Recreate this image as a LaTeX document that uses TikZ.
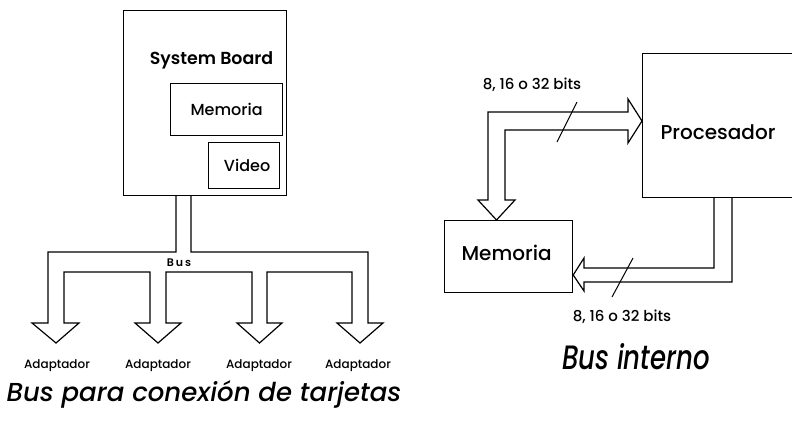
\documentclass[tikz,border=0pt]{standalone}
\usepackage{fontspec}
\usetikzlibrary{calc}
\setmainfont{Poppins}[UprightFont={* Medium}, ItalicFont={* Medium Italic}, BoldFont={* SemiBold}]
\begin{document}
\begin{tikzpicture}[x=1pt,y=-1pt,
  line width=1.2pt, line join=miter,
  box/.style={draw, rectangle, inner sep=0pt, anchor=north west},
  lbl/.style={inner sep=0pt, font=\fontsize{#1}{#1}\selectfont},
  bus/.style={draw, line width=1.2pt}]
\useasboundingbox (0,0) rectangle (792,421);

% ---------- expansion bus (left) ----------
\node[box, minimum width=163pt, minimum height=185pt] (board) at (123,10) {};
\node[lbl=17.4, font=\fontsize{17.4}{17.4}\selectfont\bfseries] (sbtxt) at (211.5,60) {System Board};
\node[box, minimum width=112pt, minimum height=52pt] (smem) at (170,83) {};
\node[lbl=16] at (smem.center) {Memoria};
\node[box, minimum width=71pt, minimum height=46pt] (vid) at (208,142) {};
\node[lbl=16] at ($(vid.center)+(3,0)$) {Video};

% bus trunk with four branches ending in block arrows
\draw[bus] (176,195) -- (176,252) -- (48,252) -- (48,323) -- (32,323) -- (56,343) -- (79,323) -- (64,323)
  -- (64,272) -- (150,272) -- (150,323) -- (135,323) -- (158,343) -- (181,323) -- (166,323)
  -- (166,272) -- (252,272) -- (252,323) -- (237,323) -- (259.5,343) -- (282,323) -- (267,323)
  -- (267,272) -- (352,272) -- (352,323) -- (337,323) -- (360,343) -- (383,323) -- (368,323)
  -- (368,252) -- (191,252) -- (191,195);
\node[lbl=11, font=\fontsize{11}{11}\selectfont\bfseries] (buslbl) at (179,263) {B\,u\,s};

\foreach \x/\n in {57/a1,158/a2,259/a3,358/a4}
  \node[lbl=12] (\n) at (\x,366) {Adaptador};

\node[lbl=26, font=\fontsize{26}{26}\selectfont\itshape] (cap1) at (204,394) {Bus para conexión de tarjetas};

% ---------- internal bus (right) ----------
\node[box, minimum width=155pt, minimum height=144pt] (proc) at (642,53) {};
\node[lbl=20] at (718,132) {Procesador};
\node[box, minimum width=128pt, minimum height=72pt] (mem) at (444,220) {};
\node[lbl=20] at ($(mem.center)+(-2,-4)$) {Memoria};

% bus from memory up and over to the processor
\draw[bus] (628,99) -- (proc.west |- 0,121) -- (628,143) -- (628,130) -- (505,130) -- (505,200)
  -- (515,200) -- (mem.north -| 496.5,0) -- (478,200) -- (488,200) -- (488,112) -- (628,112) -- cycle;
\draw[line width=1pt] (557,142) -- (577,102);
\node[lbl=15] (w1) at (532,85) {8, 16 o 32 bits};

% bus from the processor down and back to memory
\draw[bus] (714,197) -- (714,268) -- (584,268) -- (584,258) -- (mem.east |- 0,275) -- (584,291)
  -- (584,282) -- (732,282) -- (732,197);
\draw[line width=1pt] (612,297) -- (633,258);
\node[lbl=15] (w2) at (622,317) {8, 16 o 32 bits};

\node[lbl=26, font=\fontsize{26}{26}\selectfont\itshape] (cap2) at (636,357) {\scalebox{1}[1.3]{Bus interno}};
\end{tikzpicture}
\end{document}
